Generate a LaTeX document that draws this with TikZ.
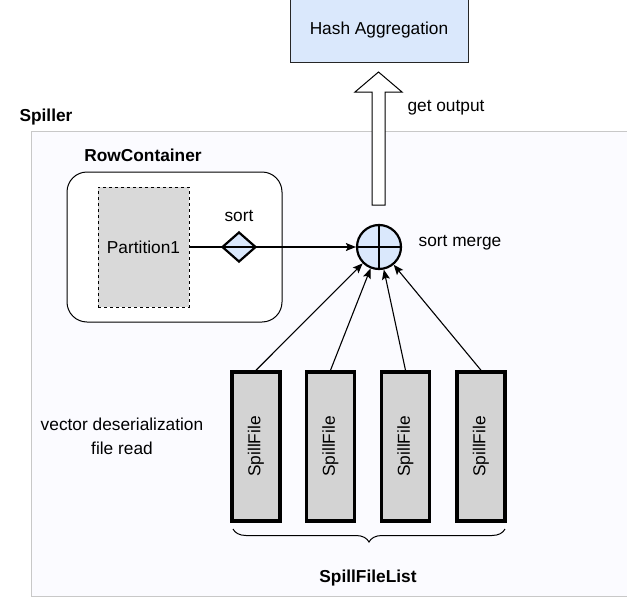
\documentclass[tikz,border=0pt]{standalone}
\usepackage{fontspec}
\setmainfont{Liberation Sans}
\usetikzlibrary{shapes.geometric,arrows.meta,decorations.pathreplacing}
\definecolor{boxblue}{HTML}{DAE8FC}
\definecolor{partgray}{HTML}{D9D9D9}
\definecolor{filegray}{HTML}{D3D3D3}
\definecolor{regionbg}{RGB}{251,251,255}
\definecolor{regionline}{RGB}{200,200,200}
\begin{document}
\begin{tikzpicture}[x=1pt, y=-1pt, font=\fontsize{17.3}{24}\selectfont,
    label/.style={inner sep=0pt},
    title/.style={inner sep=0pt, font=\fontsize{17.3}{24}\selectfont\bfseries},
    conn/.style={line width=1.1pt, -{Stealth[length=10pt, width=8pt, inset=2pt]}},
    spillfile/.style={draw, line width=3.5pt, fill=filegray, minimum width=48pt,
        minimum height=149pt, inner sep=0pt}]
    \useasboundingbox (0,0) rectangle (627,605);
    \clip (0,0) rectangle (627,605);

    % Spiller region
    \draw[fill=regionbg, draw=regionline, line width=1pt] (31,131) rectangle (640,596);
    \node[title] (spiller) at (46,117) {Spiller};

    % Output side
    \node[draw=black!85, fill=boxblue, line width=1pt, minimum width=178pt,
        minimum height=64pt, inner sep=0pt] (hash) at (379,30) {Hash Aggregation};
    \draw[fill=white, line width=1pt] (372,205) -- (372,92) -- (355,92) -- (378.5,72)
        -- (402,92) -- (385,92) -- (385,205) -- cycle;
    \node[label] (getout) at (446,108) {get output};

    % Row container
    \node[title] (rowlabel) at (143,155) {RowContainer};
    \node[draw, fill=white, rounded corners=20pt, line width=1pt, minimum width=215pt,
        minimum height=150pt] (rowc) at (174.5,247) {};
    \node[draw, dashed, fill=partgray, line width=1pt, minimum width=91pt,
        minimum height=120pt, inner sep=0pt] (part) at (143.5,247) {Partition1};
    \node[diamond, draw, fill=boxblue, line width=2.2pt, minimum width=34pt,
        minimum height=30pt, inner sep=0pt] (sort) at (239,247) {};
    \node[label] (sortlabel) at (239,216) {sort};

    % Merge
    \node[circle, draw, fill=boxblue, line width=2.2pt, minimum size=44pt] (merge) at (379,247) {};
    \draw[line width=2pt] (merge.north) -- (merge.south) (merge.west) -- (merge.east);
    \node[label] (mergelabel) at (460,243) {sort merge};
    \draw[conn] (part.east) -- (merge.west);

    % Spill files
    \foreach \i/\x in {1/256, 2/330.5, 3/405.5, 4/481} {
        \node[spillfile] (file\i) at (\x,446.5) {\rotatebox{90}{SpillFile}};
        \draw[conn] (file\i.north) -- (merge);
    }
    \node[label, align=center] (readlabel) at (122,436) {vector deserialization\\file read};

    \draw[line width=1pt, decorate, decoration={brace, mirror, amplitude=13pt}]
        (233,529) -- (505,529);
    \node[title] (listlabel) at (368,578) {SpillFileList};
\end{tikzpicture}
\end{document}
